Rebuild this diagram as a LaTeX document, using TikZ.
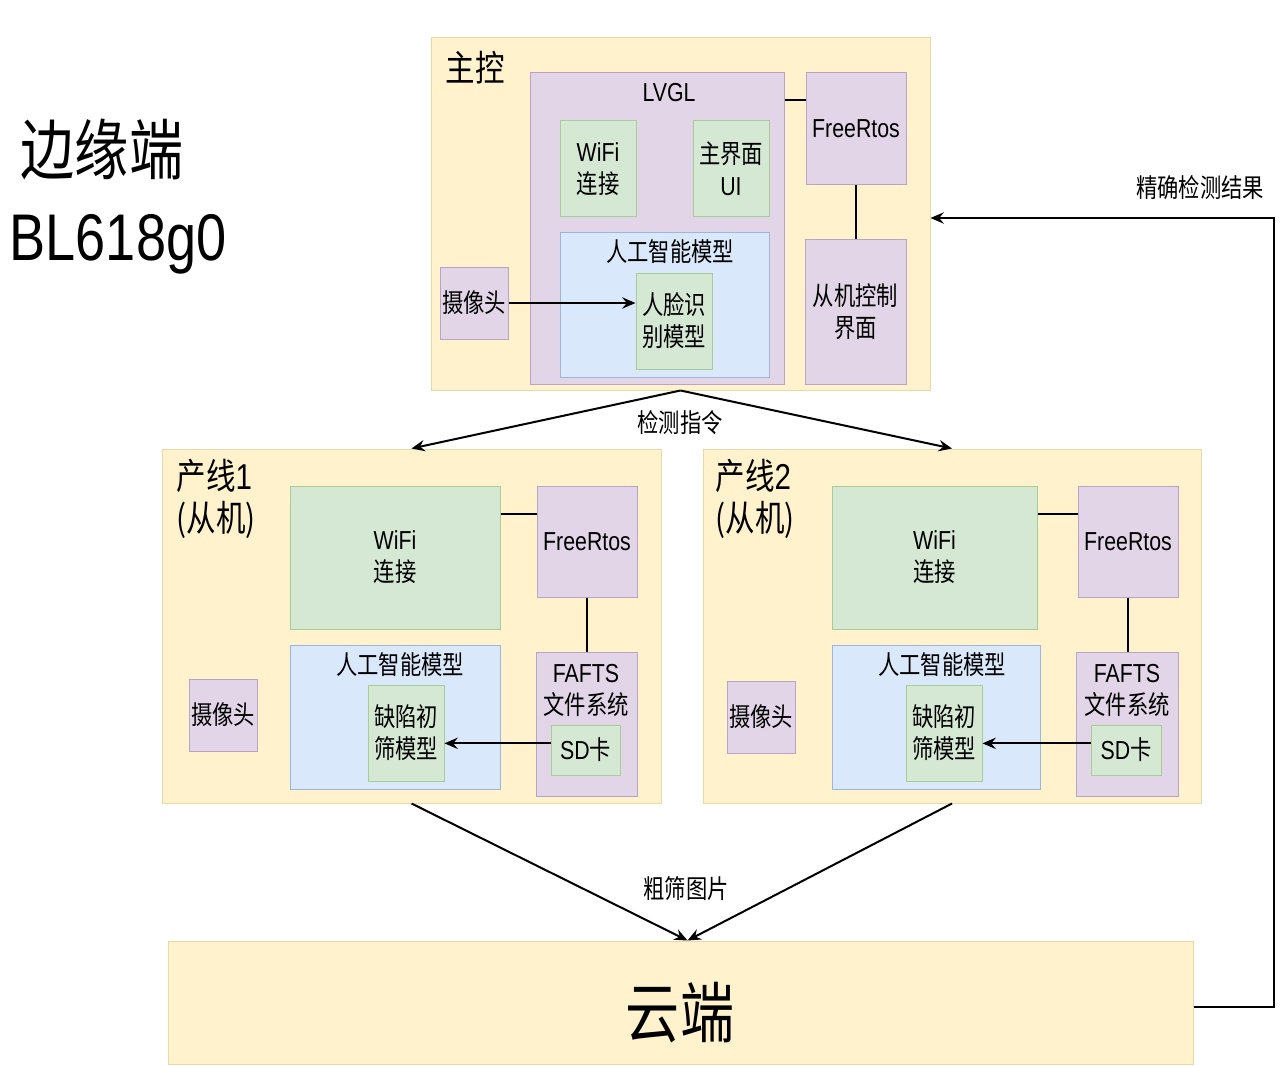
\documentclass[tikz,border=0pt]{standalone}
\usepackage{fontspec}
\setmainfont{Noto Sans CJK SC}[FakeStretch=0.82]
\newfontfamily\lat{Liberation Sans}[FakeStretch=0.82]
\usetikzlibrary{fit,calc,arrows.meta}

\definecolor{panelfill}{HTML}{FFF2CC}
\definecolor{panelline}{HTML}{E8D9A8}
\definecolor{modulefill}{HTML}{E1D5E7}
\definecolor{moduleline}{HTML}{B9A3C6}
\definecolor{unitfill}{HTML}{D5E8D4}
\definecolor{unitline}{HTML}{A9CC97}
\definecolor{aifill}{HTML}{DAE8FC}
\definecolor{ailine}{HTML}{9DB5DA}

\begin{document}
\begin{tikzpicture}[
  x=0.75pt,y=-0.75pt,line width=0.75pt,
  font=\fontsize{19.5}{24}\selectfont,
  every node/.style={inner sep=0pt},
  panel/.style={draw=panelline,fill=panelfill},
  module/.style={draw=moduleline,fill=modulefill},
  unit/.style={draw=unitline,fill=unitfill},
  aibox/.style={draw=ailine,fill=aifill},
  boxtext/.style={align=center},
  panel title/.style={anchor=west,align=left,font=\fontsize{27}{32}\selectfont},
  big title/.style={font=\fontsize{49.5}{58}\selectfont},
  link/.style={line width=1.5pt},
  flow/.style={line width=1.5pt,-{Stealth[length=10pt,width=8.5pt,inset=3.5pt]}}
]
  \useasboundingbox (0,0) rectangle (1280,1066);

  \node[big title] (edgetitle) at (102,149) {边缘端};
  \node[big title] (chiptitle) at (118,244) {\lat BL618g0};

  % master board
  \node[panel,fit={(431,38) (930,390)}] (master) {};
  \node[panel title] (mastertitle) at (445,68) {主控};
  \node[module,fit={(530,73) (784,384)}] (lvgl) {};
  \node (lvgltitle) at (669,93) {\lat LVGL};
  \node[unit,fit={(560,121) (636,217)}] (mwifi) {};
  \node[boxtext] (mwifitext) at (mwifi.center) {{\lat WiFi}\\连接};
  \node[unit,fit={(693,121) (769,217)}] (mui) {};
  \node[boxtext] (muitext) at (mui.center) {主界面\\{\lat UI}};
  \node[aibox,fit={(560,233) (769,377)}] (mai) {};
  \node (maititle) at (670,252) {人工智能模型};
  \node[unit,fit={(636,273) (712,369)}] (face) {};
  \node[boxtext] (facetext) at (face.center) {人脸识\\别模型};
  \node[module,fit={(440,267) (508,339)}] (mcam) {};
  \node[boxtext] (mcamtext) at (mcam.center) {摄像头};
  \node[module,fit={(806,73) (906,185)}] (mrtos) {};
  \node[boxtext] (mrtostext) at (mrtos.center) {\lat FreeRtos};
  \node[module,fit={(805,240) (906,384)}] (ctrl) {};
  \node[boxtext] (ctrltext) at (ctrl.center) {从机控制\\界面};

  % line 1
  \node[panel,fit={(162,449) (661,803)}] (line1) {};
  \node[panel title] (line1title) at (176,499) {产线{\lat 1}\\(从机)};
  \node[unit,fit={(290,486) (500,629)}] (wifi1) {};
  \node[boxtext] (wifi1text) at (wifi1.center) {{\lat WiFi}\\连接};
  \node[module,fit={(537,486) (637,597)}] (rtos1) {};
  \node[boxtext] (rtos1text) at (rtos1.center) {\lat FreeRtos};
  \node[aibox,fit={(290,645) (500,789)}] (ai1) {};
  \node (ai1title) at (400,665) {人工智能模型};
  \node[unit,fit={(368,685) (444,781)}] (defect1) {};
  \node[boxtext] (defect1text) at (defect1.center) {缺陷初\\筛模型};
  \node[module,fit={(536,652) (637,796)}] (fs1) {};
  \node[boxtext] (fs1title) at (586,690) {{\lat FAFTS}\\文件系统};
  \node[unit,fit={(551,725) (620,775)}] (sd1) {};
  \node[boxtext] (sd1text) at (sd1.center) {{\lat SD}卡};
  \node[module,fit={(189,679) (257,751)}] (cam1) {};
  \node[boxtext] (cam1text) at (cam1.center) {摄像头};

  % line 2
  \node[panel,fit={(703,449) (1201,803)}] (line2) {};
  \node[panel title] (line2title) at (715,499) {产线{\lat 2}\\(从机)};
  \node[unit,fit={(832,486) (1037,629)}] (wifi2) {};
  \node[boxtext] (wifi2text) at (wifi2.center) {{\lat WiFi}\\连接};
  \node[module,fit={(1078,486) (1178,597)}] (rtos2) {};
  \node[boxtext] (rtos2text) at (rtos2.center) {\lat FreeRtos};
  \node[aibox,fit={(832,645) (1040,789)}] (ai2) {};
  \node (ai2title) at (942,665) {人工智能模型};
  \node[unit,fit={(906,685) (982,781)}] (defect2) {};
  \node[boxtext] (defect2text) at (defect2.center) {缺陷初\\筛模型};
  \node[module,fit={(1076,652) (1178,796)}] (fs2) {};
  \node[boxtext] (fs2title) at (1127,690) {{\lat FAFTS}\\文件系统};
  \node[unit,fit={(1091,725) (1161,775)}] (sd2) {};
  \node[boxtext] (sd2text) at (sd2.center) {{\lat SD}卡};
  \node[module,fit={(727,681) (795,753)}] (cam2) {};
  \node[boxtext] (cam2text) at (cam2.center) {摄像头};

  % cloud
  \node[panel,fit={(168,941) (1193,1064)}] (cloud) {};
  \node[big title] (cloudtext) at (680,1013) {云端};

  \node (cmdlabel) at (680,423) {检测指令};
  \node (imglabel) at (686,889) {粗筛图片};
  \node (resultlabel) at (1200,188) {精确检测结果};

  \draw[link] ($(lvgl.north east)+(0,28)$) -- ($(mrtos.north west)+(0,28)$);
  \draw[link] (mrtos.south) -- (mrtos.south |- ctrl.north);
  \draw[flow] (mcam.east) -- (mcam.east -| face.west);

  \draw[link] ($(wifi1.north east)+(0,28)$) -- ($(rtos1.north west)+(0,28)$);
  \draw[link] (rtos1.south) -- (rtos1.south |- fs1.north);
  \draw[flow] ([yshift=5pt]sd1.west) -- ([yshift=5pt]sd1.west -| defect1.east);

  \draw[link] ($(wifi2.north east)+(0,28)$) -- ($(rtos2.north west)+(0,28)$);
  \draw[link] (rtos2.south) -- (rtos2.south |- fs2.north);
  \draw[flow] ([yshift=5pt]sd2.west) -- ([yshift=5pt]sd2.west -| defect2.east);

  \draw[flow] (master.south) -- (line1.north);
  \draw[flow] (master.south) -- (line2.north);
  \draw[flow] (line1.south) -- ($(cloud.north)+(7,0)$);
  \draw[flow] (line2.south) -- ($(cloud.north)+(7,0)$);
  \draw[flow] ([yshift=-3pt]cloud.east) -- ++(80,0) |- ([yshift=-3pt]master.east);
\end{tikzpicture}
\end{document}
